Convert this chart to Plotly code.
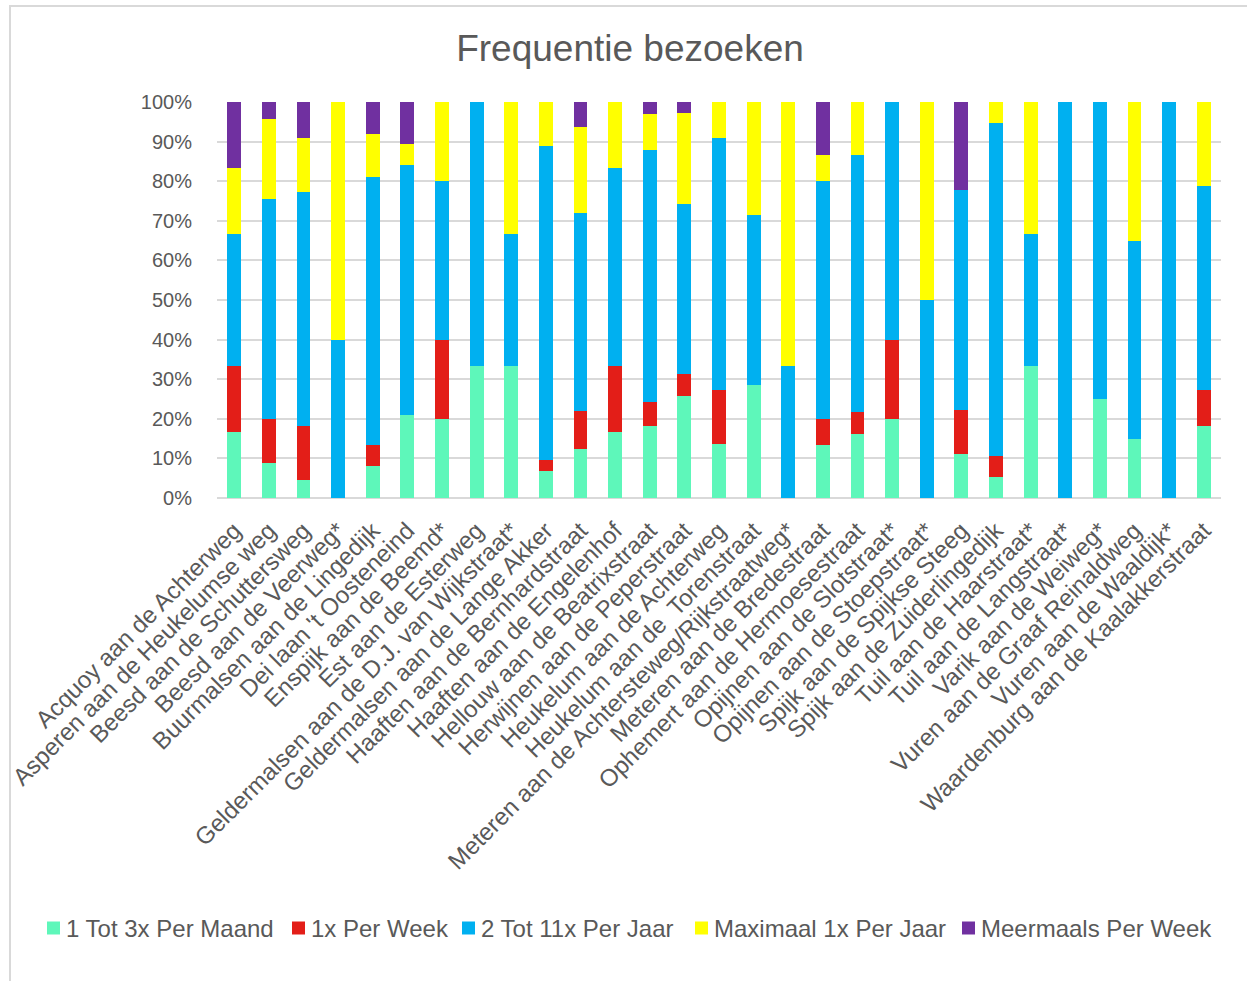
import plotly.graph_objects as go

categories = [
    "Acquoy aan de Achterweg",
    "Asperen aan de Heukelumse weg",
    "Beesd aan de Schuttersweg",
    "Beesd aan de Veerweg*",
    "Buurmalsen aan de Lingedijk",
    "Dei laan 't Oosteneind",
    "Enspijk aan de Beemd*",
    "Est aan de Esterweg",
    "Geldermalsen aan de D.J. van Wijkstraat*",
    "Geldermalsen aan de Lange Akker",
    "Haaften aan de Bernhardstraat",
    "Haaften aan de Engelenhof",
    "Hellouw aan de Beatrixstraat",
    "Herwijnen aan de Peperstraat",
    "Heukelum aan de Achterweg",
    "Heukelum aan de  Torenstraat",
    "Meteren aan de Achtersteweg/Rijkstraatweg*",
    "Meteren aan de Bredestraat",
    "Ophemert aan de Hermoesestraat",
    "Opijnen aan de Slotstraat*",
    "Opijnen aan de Stoepstraat*",
    "Spijk aan de Spijkse Steeg",
    "Spijk aan de Zuiderlingedijk",
    "Tuil aan de Haarstraat*",
    "Tuil aan de Langstraat*",
    "Varik aan de Weiweg*",
    "Vuren aan de Graaf Reinaldweg",
    "Vuren aan de Waaldijk*",
    "Waardenburg aan de Kaalakkerstraat",
]

tot3_per_maand = [16.7, 8.9, 4.5, 0, 8.1, 21.1, 20, 33.3, 33.3, 6.9, 12.5, 16.7, 18.2, 25.7, 13.6,
                  28.6, 0, 13.3, 16.2, 20, 0, 11.1, 5.3, 33.3, 0, 25, 15, 0, 18.2]
per_week_1x = [16.7, 11.1, 13.6, 0, 5.4, 0, 20, 0, 0, 2.8, 9.4, 16.7, 6.1, 5.7, 13.6,
               0, 0, 6.7, 5.4, 20, 0, 11.1, 5.3, 0, 0, 0, 0, 0, 9.1]
tot11_per_jaar = [33.3, 55.6, 59.1, 40, 67.6, 63.2, 40, 66.7, 33.3, 79.2, 50, 50, 63.6, 42.9, 63.6,
                  42.9, 33.3, 60, 64.9, 60, 50, 55.6, 84.2, 33.3, 100, 75, 50, 100, 51.5]
max_1x_per_jaar = [16.7, 20, 13.6, 60, 10.8, 5.3, 20, 0, 33.3, 11.1, 21.9, 16.7, 9.1, 22.9, 9.1,
                   28.6, 66.7, 6.7, 13.5, 0, 50, 0, 5.3, 33.3, 0, 0, 35, 0, 21.2]
meermaals_per_week = [16.7, 4.4, 9.1, 0, 8.1, 10.5, 0, 0, 0, 0, 6.2, 0, 3.0, 2.9, 0,
                      0, 0, 13.3, 0, 0, 0, 22.2, 0, 0, 0, 0, 0, 0, 0]

series_names = ["1 Tot 3x Per Maand", "1x Per Week", "2 Tot 11x Per Jaar",
                "Maximaal 1x Per Jaar", "Meermaals Per Week"]
series_values = [tot3_per_maand, per_week_1x, tot11_per_jaar, max_1x_per_jaar, meermaals_per_week]
series_colors = ["#5EF7BA", "#E31E18", "#00B0F0", "#FFFF00", "#7030A0"]

y_ticks = [0, 10, 20, 30, 40, 50, 60, 70, 80, 90, 100]
y_tick_labels = [f"{v}%" for v in y_ticks]

FONT = "Liberation Sans, Arial, sans-serif"
GREY = "#595959"

fig = go.Figure()
for name, vals, col in zip(series_names, series_values, series_colors):
    fig.add_trace(go.Bar(x=categories, y=vals, name=name, showlegend=False,
                         marker=dict(color=col, line=dict(width=0))))

W, H = 1247, 981
L, R, T, B = 217, 26, 102, 483
pw, ph = W - L - R, H - T - B

def px_x(px):
    return (px - L) / pw

def px_y(py):
    return 1 - (py - T) / ph

fig.update_layout(
    width=W, height=H,
    barmode="stack", barnorm="percent", bargap=0.6,
    paper_bgcolor="white", plot_bgcolor="white",
    margin=dict(l=L, r=R, t=T, b=B, autoexpand=False),
    font=dict(family=FONT, color=GREY),
    title=dict(text="Frequentie bezoeken", x=630 / W, xanchor="center",
               y=1 - 48 / H, yanchor="middle",
               font=dict(size=37, color=GREY, family=FONT)),
    xaxis=dict(tickangle=-45, tickfont=dict(size=24, color=GREY),
               showgrid=False, showline=False, ticks="outside", ticklen=8,
               tickcolor="rgba(0,0,0,0)", automargin=False),
    yaxis=dict(range=[0, 100], tickvals=y_ticks, ticktext=y_tick_labels,
               tickfont=dict(size=20, color=GREY), showgrid=True,
               gridcolor="#D9D9D9", gridwidth=2, zeroline=True,
               zerolinecolor="#D9D9D9", zerolinewidth=2, showline=False,
               ticks="outside", ticklen=20, tickcolor="rgba(0,0,0,0)",
               automargin=False),
    showlegend=False,
)

# frame around the chart
fig.add_shape(type="rect", xref="paper", yref="paper",
              x0=px_x(10), x1=px_x(1300), y0=px_y(1100), y1=px_y(6),
              line=dict(color="#D9D9D9", width=2), fillcolor="rgba(0,0,0,0)",
              layer="below")

# legend drawn manually (square marker + label)
legend_marker_x = [47, 292, 462, 695, 962]
legend_y = 928
legend_size = 13
for name, col, mx in zip(series_names, series_colors, legend_marker_x):
    fig.add_shape(type="rect", xref="paper", yref="paper",
                  x0=px_x(mx), x1=px_x(mx + legend_size),
                  y0=px_y(legend_y + legend_size / 2), y1=px_y(legend_y - legend_size / 2),
                  line=dict(width=0), fillcolor=col)
    fig.add_annotation(text=name, xref="paper", yref="paper",
                       x=px_x(mx + legend_size + 4), y=px_y(legend_y),
                       xanchor="left", yanchor="middle", showarrow=False,
                       font=dict(size=24, color=GREY, family=FONT))

fig.write_html("out.html", config={"displayModeBar": False},
               post_script="document.body.style.margin='0px';")
